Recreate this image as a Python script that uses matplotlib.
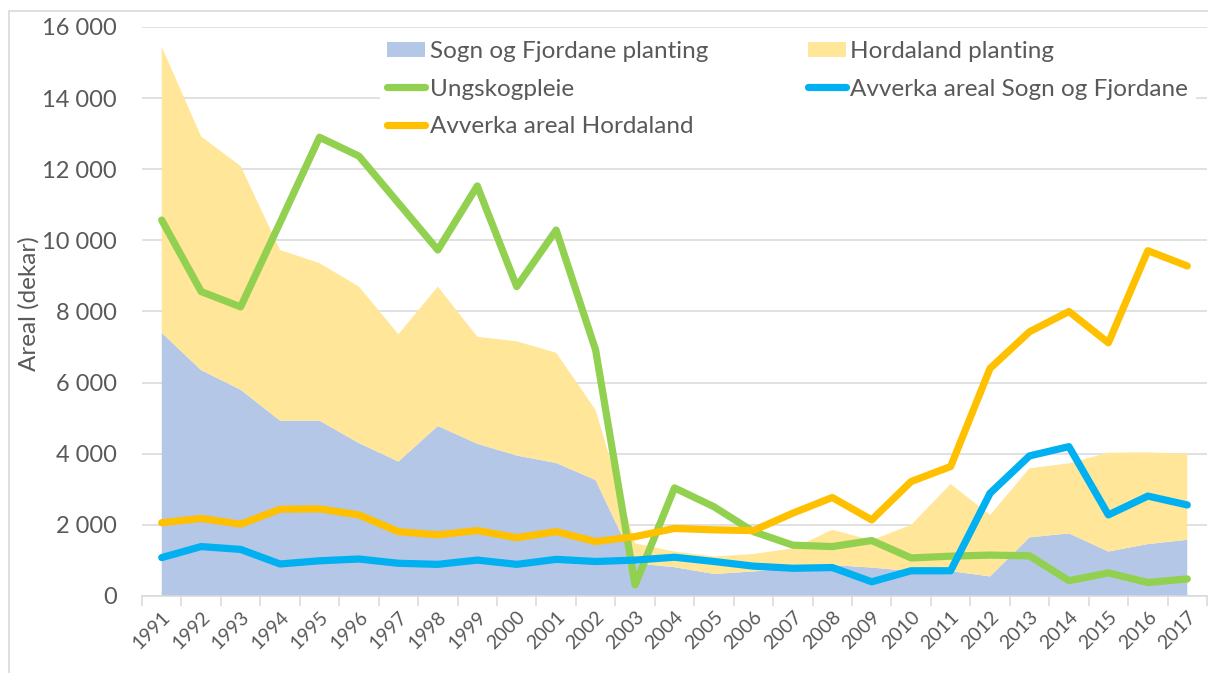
import matplotlib
matplotlib.use("Agg")
import matplotlib.pyplot as plt
from matplotlib.ticker import FuncFormatter, FixedLocator
from matplotlib.patches import Patch, Rectangle
from matplotlib.lines import Line2D

plt.rcParams['font.family'] = ['Lato', 'DejaVu Sans']

years = list(range(1991, 2018))
year_labels = [str(y) for y in years]

sof_planting = [7400, 6350, 5800, 4930, 4930, 4300, 3780, 4780, 4280, 3950,
                3740, 3260, 920, 810, 620, 690, 780, 870, 800, 700,
                700, 550, 1650, 1760, 1250, 1460, 1580]
hord_planting = [8040, 6570, 6290, 4800, 4430, 4400, 3580, 3920, 3010, 3210,
                 3100, 1970, 560, 440, 490, 490, 560, 990, 770, 1300,
                 2450, 1730, 1940, 1970, 2780, 2580, 2420]
ungskogpleie = [10570, 8560, 8130, 10500, 12900, 12370, 11050, 9730, 11530, 8700,
                10290, 6920, 310, 3040, 2510, 1810, 1430, 1390, 1560, 1070,
                1120, 1150, 1130, 430, 650, 380, 480]
avverka_sof = [1080, 1390, 1310, 900, 990, 1040, 920, 890, 1010, 890,
               1030, 970, 1010, 1090, 970, 840, 780, 800, 400, 710,
               710, 2890, 3940, 4200, 2280, 2810, 2560]
avverka_hord = [2060, 2180, 2020, 2440, 2450, 2280, 1810, 1720, 1840, 1640,
                1810, 1530, 1670, 1900, 1860, 1840, 2330, 2770, 2140, 3220,
                3640, 6400, 7430, 8000, 7120, 9710, 9280]

labels = ['Sogn og Fjordane planting', 'Hordaland planting', 'Ungskogpleie',
          'Avverka areal Sogn og Fjordane', 'Avverka areal Hordaland']

c_sof_area = '#B4C7E7'
c_hord_area = '#FFE699'
c_green = '#92D050'
c_blue = '#00B0F0'
c_orange = '#FFC000'
c_text = '#595959'
c_grid = '#D9D9D9'

W, H = 1208, 673
fig = plt.figure(figsize=(W / 100, H / 100), dpi=100)

# outer chart border (left and top visible)
fig.patches.append(Rectangle((9 / W, -0.1), 1.2, 1 - 11 / H + 0.1, transform=fig.transFigure,
                             fill=False, edgecolor='#D9D9D9', lw=1.2))

ax = fig.add_axes([142 / W, 1 - 596 / H, (1207 - 142) / W, (596 - 27) / H])
ax.set_axisbelow(True)

ax.stackplot(years, sof_planting, hord_planting, colors=[c_sof_area, c_hord_area],
             linewidth=0, zorder=1)
lw = 5.2
for vals, col in [(ungskogpleie, c_green), (avverka_sof, c_blue), (avverka_hord, c_orange)]:
    ax.plot(years, vals, color=col, lw=lw, solid_capstyle='round',
            solid_joinstyle='round', zorder=3)

ax.set_xlim(years[0] - 0.5, years[-1] + 0.5)
ax.set_ylim(0, 16000)
ax.yaxis.set_major_locator(FixedLocator(list(range(0, 16001, 2000))))
ax.yaxis.set_major_formatter(FuncFormatter(lambda v, p: f"{int(v):,}".replace(",", " ")))
ax.grid(axis='y', color=c_grid, lw=1.1)
ax.tick_params(axis='y', length=0, pad=18, labelsize=17, labelcolor=c_text)

ax.set_xticks(years)
ax.set_xticklabels(year_labels, rotation=45, ha='right', rotation_mode='anchor',
                   fontsize=14, color=c_text)
ax.tick_params(axis='x', which='major', length=0, pad=9)
ax.set_xticks([y - 0.5 for y in years] + [years[-1] + 0.5], minor=True)
ax.tick_params(axis='x', which='minor', length=7, color=c_grid, width=1.1)

for s in ['top', 'right', 'left']:
    ax.spines[s].set_visible(False)
ax.spines['bottom'].set_color(c_grid)
ax.spines['bottom'].set_linewidth(1.1)

fig.text(29 / W, 1 - 304 / H, 'Areal (dekar)', rotation=90, ha='center', va='center',
         fontsize=17.5, color=c_text)

handles = [
    Patch(facecolor=c_sof_area, edgecolor='none'),
    Line2D([], [], color=c_green, lw=lw, solid_capstyle='round'),
    Line2D([], [], color=c_orange, lw=lw, solid_capstyle='round'),
    Patch(facecolor=c_hord_area, edgecolor='none'),
    Line2D([], [], color=c_blue, lw=lw, solid_capstyle='round'),
]
hl = [labels[0], labels[2], labels[4], labels[1], labels[3]]
leg = fig.legend(handles, hl, ncol=2, loc='upper left',
                 bbox_to_anchor=(380 / W, 1 - 34 / H), frameon=True, fontsize=17.5,
                 handlelength=1.55, handleheight=0.6, handletextpad=0.2,
                 columnspacing=4.1, labelspacing=0.67, borderpad=0.3,
                 fancybox=False, borderaxespad=0)
leg.get_frame().set_edgecolor('none')
leg.get_frame().set_facecolor('white')
leg.get_frame().set_alpha(1)
for t in leg.get_texts():
    t.set_color(c_text)

fig.savefig('out.png', dpi=100)
